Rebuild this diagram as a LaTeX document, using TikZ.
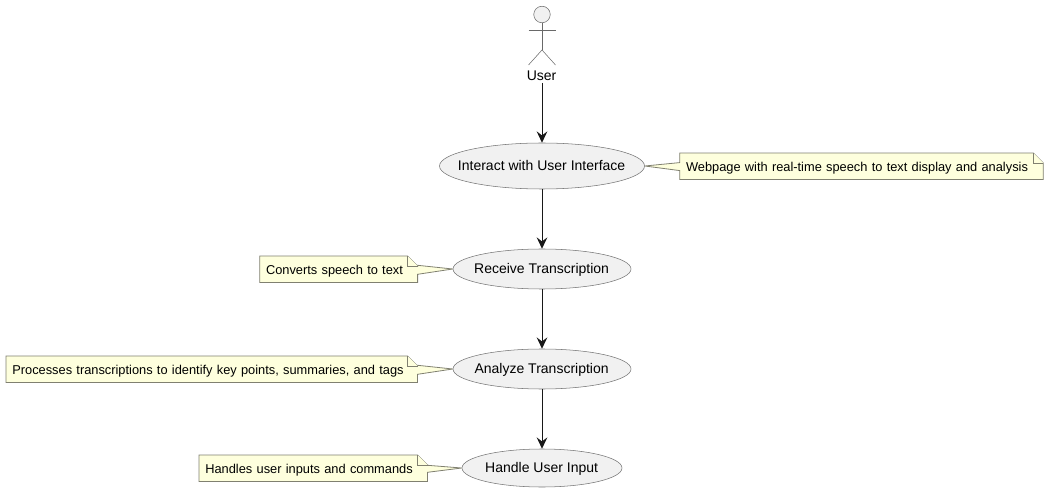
\documentclass[tikz,border=0pt]{standalone}
\usepackage{fontspec}
\setmainfont{Liberation Sans}
\usetikzlibrary{arrows.meta,backgrounds,calc,shapes.geometric}
\definecolor{notefill}{HTML}{FEFFDD}
\definecolor{noteline}{HTML}{808070}
\definecolor{ufill}{HTML}{F1F1F1}
\definecolor{uline}{HTML}{181818}
\newcommand{\uctext}[1]{\makebox[0pt]{\hspace{-0.6pt}\raisebox{-3.35pt}[0pt][0pt]{#1}}}
\newcommand{\nttext}[1]{\raisebox{-4.1pt}[0pt][0pt]{#1}}
\tikzset{
  x=0.75pt,y=-0.75pt,
  usecase/.style={ellipse,draw=uline!60,fill=ufill,line width=0.4pt,inner sep=0pt,font=\fontsize{10.5pt}{12pt}\selectfont,text=black},
  notebox/.style={rectangle,inner sep=0pt,minimum height=19.5pt,font=\fontsize{9.62pt}{11.5pt}\selectfont,text=black,align=left},
  noteshape/.style={draw=noteline,fill=notefill,line width=0.6pt,line join=miter},
  flow/.style={draw=uline,line width=0.75pt,-{Stealth[length=8.5pt,width=8pt,inset=3pt]}},
  actorline/.style={draw=uline!65,line width=0.4pt},
  actorlabel/.style={font=\fontsize{10.5pt}{12pt}\selectfont,text=black,inner sep=0pt,minimum height=12pt}
}
\begin{document}
\begin{tikzpicture}
\useasboundingbox (0,0) rectangle (1048,491);
% use cases
\node[usecase,minimum width=153.75pt,minimum height=34.5pt] (u1) at (542,166) {\uctext{Interact with User Interface}};
\node[usecase,minimum width=133.5pt,minimum height=30pt] (u2) at (542,269) {\uctext{Receive Transcription}};
\node[usecase,minimum width=133.5pt,minimum height=30pt] (u3) at (542,369) {\uctext{Analyze Transcription}};
\node[usecase,minimum width=120pt,minimum height=28.5pt] (u4) at (542,468) {\uctext{Handle User Input}};
% actor
\node[circle,draw=uline!65,fill=ufill,line width=0.4pt,minimum size=12.4pt,inner sep=0pt] (head) at (542,14.5) {};
\coordinate (arml) at (528.5,30);
\coordinate (armr) at (555.5,30);
\coordinate (hip) at (542,50);
\coordinate (legl) at (528.5,65);
\coordinate (legr) at (555.5,65);
\draw[actorline] (head.south) -- (hip);
\draw[actorline] (arml) -- (armr);
\draw[actorline] (legl) -- (hip) -- (legr);
\node[actorlabel] (user) at (541.6,75.7) {User};
% connectors
\coordinate (ustart) at (542,83);
\draw[flow] (ustart) -- (u1.north);
\draw[flow] (u1.south) -- (u2.north);
\draw[flow] (u2.south) -- (u3.north);
\draw[flow] (u3.south) -- (u4.north);
% notes
\node[notebox,minimum width=272.25pt,text width=263.25pt] (n1) at (861.5,166.3) {\nttext{Webpage with real-time speech to text display and analysis}};
\node[notebox,minimum width=118pt,text width=109pt] (n2) at (338.7,269.3) {\nttext{Converts speech to text}};
\node[notebox,minimum width=308.25pt,text width=299.25pt] (n3) at (211.8,369.3) {\nttext{Processes transcriptions to identify key points, summaries, and tags}};
\node[notebox,minimum width=171pt,text width=162pt] (n4) at (313.3,468.3) {\nttext{Handles user inputs and commands}};
\begin{scope}[on background layer]
\draw[noteshape] (n1.north west) -- ($(n1.north east)+(-10,0)$) -- ($(n1.north east)+(0,10)$) -- (n1.south east) -- (n1.south west) -- ($(n1.west)+(0,4.3)$) -- (u1.east) -- ($(n1.west)+(0,-3.7)$) -- cycle;
\draw[noteshape] ($(n1.north east)+(-10,0)$) -- ($(n1.north east)+(-10,10)$) -- ($(n1.north east)+(0,10)$);
\draw[noteshape] (n2.north west) -- ($(n2.north east)+(-10,0)$) -- ($(n2.north east)+(0,10)$) -- ($(n2.east)+(0,-4)$) -- (u2.west) -- ($(n2.east)+(0,5)$) -- (n2.south east) -- (n2.south west) -- cycle;
\draw[noteshape] ($(n2.north east)+(-10,0)$) -- ($(n2.north east)+(-10,10)$) -- ($(n2.north east)+(0,10)$);
\draw[noteshape] (n3.north west) -- ($(n3.north east)+(-10,0)$) -- ($(n3.north east)+(0,10)$) -- ($(n3.east)+(0,-4)$) -- (u3.west) -- ($(n3.east)+(0,5)$) -- (n3.south east) -- (n3.south west) -- cycle;
\draw[noteshape] ($(n3.north east)+(-10,0)$) -- ($(n3.north east)+(-10,10)$) -- ($(n3.north east)+(0,10)$);
\draw[noteshape] (n4.north west) -- ($(n4.north east)+(-10,0)$) -- ($(n4.north east)+(0,10)$) -- ($(n4.east)+(0,-3)$) -- (u4.west) -- ($(n4.east)+(0,4)$) -- (n4.south east) -- (n4.south west) -- cycle;
\draw[noteshape] ($(n4.north east)+(-10,0)$) -- ($(n4.north east)+(-10,10)$) -- ($(n4.north east)+(0,10)$);
\end{scope}
\end{tikzpicture}
\end{document}
